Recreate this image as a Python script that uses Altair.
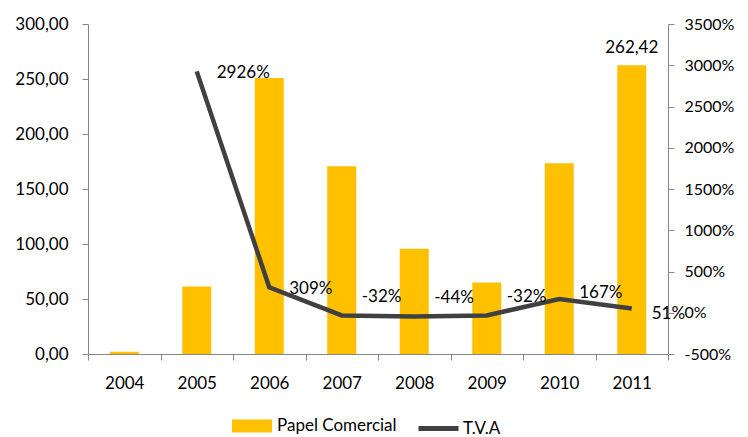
import altair as alt
import pandas as pd

years = ["2004", "2005", "2006", "2007", "2008", "2009", "2010", "2011"]
papel = [2.03, 61.4, 250.9, 170.7, 95.6, 64.9, 173.4, 262.42]
tva = [None, 2926, 309, -32, -44, -32, 167, 51]
tva_labels = ["", "2926%", "309%", "-32%", "-44%", "-32%", "167%", "51%"]
bar_labels = ["", "", "", "", "", "", "", "262,42"]

df = pd.DataFrame({
    "year": years, "papel": papel, "tva": tva,
    "tva_label": tva_labels, "bar_label": bar_labels,
})
df["s1"] = "Papel Comercial"
df["s2"] = "T.V.A"

FONT = "Lato"
FS = 17
AX = "#868686"

x = alt.X("year:O", title=None,
          scale=alt.Scale(paddingInner=0, paddingOuter=0),
          axis=alt.Axis(tickBand="extent", labelAngle=0, labelPadding=15,
                        tickSize=6, domainColor=AX, tickColor=AX,
                        labelColor="#000", labelFont=FONT, labelFontSize=FS))

yl = alt.Y("papel:Q", title=None,
           scale=alt.Scale(domain=[0, 300], nice=False),
           axis=alt.Axis(orient="left", values=[0, 50, 100, 150, 200, 250, 300],
                         labelExpr="replace(format(datum.value, '.2f'), '.', ',')",
                         grid=False, tickSize=6, labelPadding=14,
                         domainColor=AX, tickColor=AX, labelColor="#000",
                         labelFont=FONT, labelFontSize=FS))

yr = alt.Y("tva:Q", title=None,
           scale=alt.Scale(domain=[-500, 3500], nice=False),
           axis=alt.Axis(orient="right", values=list(range(-500, 3501, 500)),
                         labelExpr="datum.value + '%'",
                         grid=False, tickSize=6, labelPadding=10,
                         domainColor=AX, tickColor=AX, labelColor="#000",
                         labelFont=FONT, labelFontSize=16))

bars = alt.Chart(df).mark_bar(size=29).encode(
    x=x, y=yl,
    color=alt.Color("s1:N", title=None,
                    scale=alt.Scale(range=["#FFC000"]),
                    legend=alt.Legend(orient="none", legendX=144, legendY=382,
                                      symbolType="M-1,-0.33H1V0.33H-1Z",
                                      symbolSize=1600, symbolStrokeWidth=0,
                                      symbolOpacity=1, labelFont=FONT,
                                      labelFontSize=FS, labelColor="#000",
                                      labelOffset=5)),
)

bar_text = alt.Chart(df).mark_text(
    baseline="bottom", dy=-8, font=FONT, fontSize=FS, color="#000"
).encode(x=x, y=yl, text="bar_label:N")

line_df = df.dropna(subset=["tva"])
line = alt.Chart(line_df).mark_line(strokeWidth=4.5).encode(
    x=x, y=yr,
    stroke=alt.Stroke("s2:N", title=None,
                      scale=alt.Scale(range=["#404040"]),
                      legend=alt.Legend(orient="none", legendX=328, legendY=382,
                                        symbolType="stroke",
                                        symbolSize=1600, symbolStrokeWidth=5,
                                        labelFont=FONT, labelFontSize=FS,
                                        labelColor="#000", labelOffset=2)),
)


def tva_text(cond, dy):
    return alt.Chart(line_df).transform_filter(cond).mark_text(
        align="left", baseline="middle", dx=20, dy=dy,
        font=FONT, fontSize=FS, color="#000"
    ).encode(x=x, y=yr, text="tva_label:N")


line_texts = [
    tva_text("datum.tva < 0", -18),
    tva_text("datum.tva >= 0 && datum.tva < 100", 5),
    tva_text("datum.tva >= 100 && datum.tva < 200", -6),
    tva_text("datum.tva >= 200", 2),
]

chart = alt.layer(
    alt.layer(bars, bar_text),
    alt.layer(line, *line_texts),
).resolve_scale(y="independent", color="independent", stroke="independent").properties(
    width=580, height=330,
    autosize=alt.AutoSizeParams(type="none"),
    padding={"left": 80, "top": 16, "right": 72, "bottom": 80},
).configure_view(stroke=None)

chart.save("out.html", embed_options={"renderer": "svg", "actions": False})
